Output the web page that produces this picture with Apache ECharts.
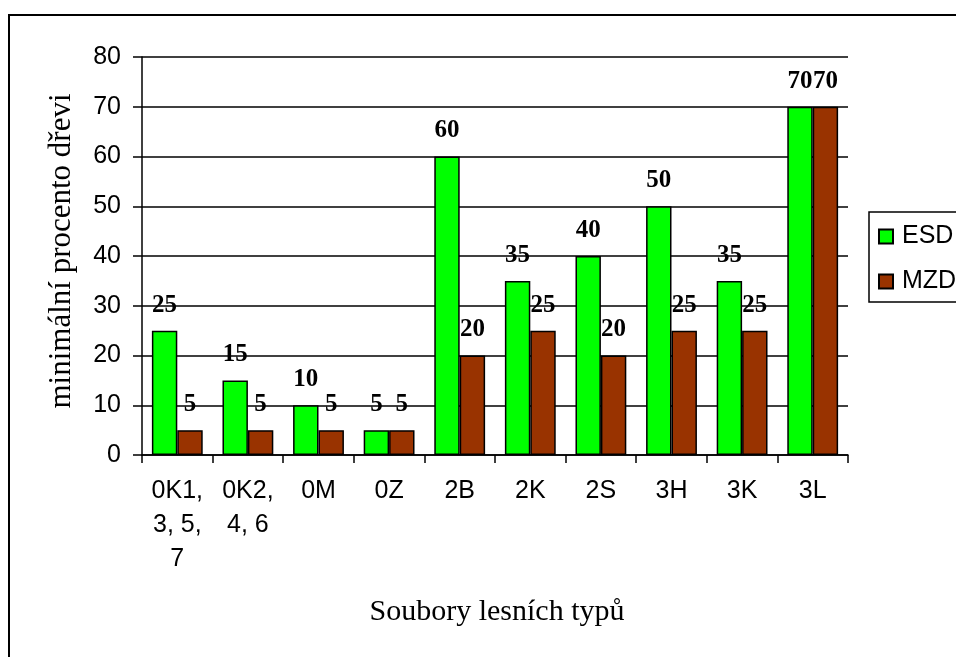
<!DOCTYPE html>
<html>
<head>
<meta charset="utf-8">
<script src="https://cdn.jsdelivr.net/npm/echarts@6/dist/echarts.min.js"></script>
<style>html,body{margin:0;padding:0;background:#fff;}#c{width:956px;height:657px;}</style>
</head>
<body>
<div id="c"></div>
<script>
var categories = ['0K1,\n3, 5,\n7', '0K2,\n4, 6', '0M', '0Z', '2B', '2K', '2S', '3H', '3K', '3L'];
var esd = [25, 15, 10, 5, 60, 35, 40, 50, 35, 70];
var mzd = [5, 5, 5, 5, 20, 25, 20, 25, 25, 70];
var seriesNames = ['ESD', 'MZD'];
var yTitle = 'minimální procento dřevi';
var xTitle = 'Soubory lesních typů';

var chart = echarts.init(document.getElementById('c'), null, {renderer: 'canvas'});
var labelStyle = {
  show: true, position: 'top', distance: 13,
  fontFamily: 'Liberation Serif', fontWeight: 'bold', fontSize: 25, color: '#000'
};
chart.setOption({
  animation: false,
  backgroundColor: '#fff',
  grid: {left: 142, top: 57, right: 108, bottom: 202, containLabel: false},
  legend: {
    orient: 'vertical', left: 869, top: 212,
    data: seriesNames,
    itemWidth: 14, itemHeight: 14, itemGap: 20,
    padding: [12, 20, 8, 9],
    borderColor: '#000', borderWidth: 1.5,
    icon: 'rect',
    textStyle: {fontFamily: 'Liberation Sans', fontSize: 25, color: '#000', padding: [0, 0, 0, 4]}
  },
  xAxis: {
    type: 'category', data: categories,
    axisLine: {lineStyle: {color: '#000', width: 1.5}},
    axisTick: {show: true, length: 8, lineStyle: {color: '#000', width: 1.5}},
    axisLabel: {fontFamily: 'Liberation Sans', fontSize: 25, color: '#000', lineHeight: 34, margin: 19, interval: 0, align: 'center'}
  },
  yAxis: {
    type: 'value', min: 0, max: 80, interval: 10,
    axisLine: {show: true, lineStyle: {color: '#000', width: 1.5}},
    axisTick: {show: true, length: 9, lineStyle: {color: '#000', width: 1.5}},
    splitLine: {show: true, lineStyle: {color: '#000', width: 1.5}},
    axisLabel: {fontFamily: 'Liberation Sans', fontSize: 25, color: '#000', margin: 21}
  },
  series: [
    {name: seriesNames[0], type: 'bar', data: esd, barGap: '0%', barCategoryGap: '28%',
     itemStyle: {color: '#00FF00', borderColor: '#000', borderWidth: 1.5}, label: labelStyle},
    {name: seriesNames[1], type: 'bar', data: mzd, barGap: '0%', barCategoryGap: '28%',
     itemStyle: {color: '#993300', borderColor: '#000', borderWidth: 1.5}, label: labelStyle}
  ],
  graphic: [
    {type: 'rect', shape: {x: 9, y: 15, width: 1000, height: 700}, style: {fill: 'none', stroke: '#000', lineWidth: 2}, z: -1},
    {type: 'text', x: 62, y: 251, rotation: Math.PI / 2,
     style: {text: yTitle, fontFamily: 'Liberation Serif', fontSize: 31, fill: '#000', align: 'center', verticalAlign: 'middle'}},
    {type: 'text', x: 497, y: 612,
     style: {text: xTitle, fontFamily: 'Liberation Serif', fontSize: 30, fill: '#000', align: 'center', verticalAlign: 'middle'}}
  ]
});
</script>
</body>
</html>
